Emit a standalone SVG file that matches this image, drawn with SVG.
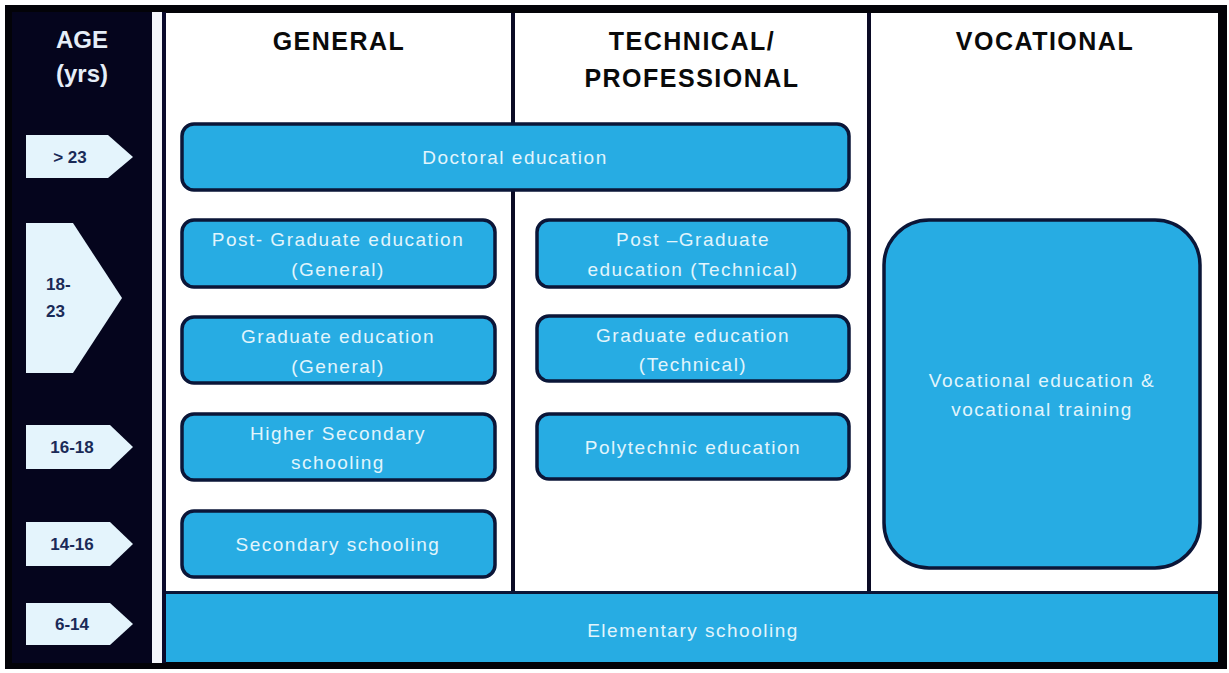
<svg xmlns="http://www.w3.org/2000/svg" width="1229" height="673" viewBox="0 0 1229 673">
<style>
.box{fill:#27ace3;stroke:#0b1638;stroke-width:3.5}
.tag{fill:#e4f4fc}
.tt{font-family:"Liberation Sans",Arial,sans-serif;font-weight:bold;font-size:17px;fill:#1a2a57}
.bt{font-family:"Liberation Sans",Arial,sans-serif;font-size:19px;letter-spacing:1.5px;fill:#e2f5fc;text-anchor:middle}
.hd{font-family:"Liberation Sans",Arial,sans-serif;font-weight:bold;font-size:25px;letter-spacing:1.5px;fill:#0a0a0a;text-anchor:middle}
.ag{font-family:"Liberation Sans",Arial,sans-serif;font-weight:bold;font-size:24px;fill:#e6eef8;text-anchor:middle}
</style>
<rect x="0" y="0" width="1229" height="673" fill="#ffffff"/>
<rect x="5" y="5" width="1222" height="664" fill="#030308"/>
<rect x="12" y="12" width="140" height="651" fill="#05051d"/>
<rect x="152" y="12" width="10" height="651" fill="#f4f6fb"/>
<rect x="162" y="12" width="4" height="651" fill="#0a0a2c"/>
<rect x="166" y="13" width="1052" height="580" fill="#ffffff"/>
<g id="connectors">
<rect x="511" y="13" width="4" height="580" fill="#0a0a24"/>
<rect x="867" y="13" width="4" height="580" fill="#0a0a24"/>
</g>
<g id="age-header">
<text class="ag" x="82" y="48">AGE</text>
<text class="ag" x="82" y="82">(yrs)</text>
</g>
<g id="tag-23">
<polygon class="tag" points="26,135 108,135 133,157 108,178 26,178"/>
<text class="tt" x="70" y="163" text-anchor="middle">&gt; 23</text>
</g>
<g id="tag-18-23">
<polygon class="tag" points="26,223 73,223 122,298 73,373 26,373"/>
<text class="tt" x="46" y="290">18-</text>
<text class="tt" x="46" y="317">23</text>
</g>
<g id="tag-16-18">
<polygon class="tag" points="26,425 110,425 133,447 110,469 26,469"/>
<text class="tt" x="72" y="453" text-anchor="middle">16-18</text>
</g>
<g id="tag-14-16">
<polygon class="tag" points="26,522 110,522 133,544 110,566 26,566"/>
<text class="tt" x="72" y="550" text-anchor="middle">14-16</text>
</g>
<g id="tag-6-14">
<polygon class="tag" points="26,603 110,603 133,624 110,645 26,645"/>
<text class="tt" x="72" y="630" text-anchor="middle">6-14</text>
</g>
<g id="hdr-general"><text class="hd" x="339" y="50">GENERAL</text></g>
<g id="hdr-technical">
<text class="hd" x="692" y="50">TECHNICAL/</text>
<text class="hd" x="692" y="87">PROFESSIONAL</text>
</g>
<g id="hdr-vocational"><text class="hd" x="1045" y="50">VOCATIONAL</text></g>
<g id="doctoral">
<rect class="box" x="182" y="124" width="667" height="66" rx="12"/>
<text class="bt" x="515" y="164">Doctoral education</text>
</g>
<g id="pg-general">
<rect class="box" x="182" y="220" width="313" height="67" rx="12"/>
<text class="bt" x="338" y="246">Post- Graduate education</text>
<text class="bt" x="338" y="276">(General)</text>
</g>
<g id="g-general">
<rect class="box" x="182" y="317" width="313" height="66" rx="12"/>
<text class="bt" x="338" y="343">Graduate education</text>
<text class="bt" x="338" y="373">(General)</text>
</g>
<g id="higher-secondary">
<rect class="box" x="182" y="414" width="313" height="66" rx="12"/>
<text class="bt" x="338" y="440">Higher Secondary</text>
<text class="bt" x="338" y="469">schooling</text>
</g>
<g id="secondary">
<rect class="box" x="182" y="511" width="313" height="66" rx="12"/>
<text class="bt" x="338" y="551">Secondary schooling</text>
</g>
<g id="pg-technical">
<rect class="box" x="537" y="220" width="312" height="67" rx="12"/>
<text class="bt" x="693" y="246">Post –Graduate</text>
<text class="bt" x="693" y="276">education (Technical)</text>
</g>
<g id="g-technical">
<rect class="box" x="537" y="316" width="312" height="65" rx="12"/>
<text class="bt" x="693" y="342">Graduate education</text>
<text class="bt" x="693" y="371">(Technical)</text>
</g>
<g id="polytechnic">
<rect class="box" x="537" y="414" width="312" height="65" rx="12"/>
<text class="bt" x="693" y="454">Polytechnic education</text>
</g>
<g id="vocational">
<rect class="box" x="884" y="220" width="316" height="348" rx="45"/>
<text class="bt" x="1042" y="387">Vocational education &amp;</text>
<text class="bt" x="1042" y="416">vocational training</text>
</g>
<g id="elementary">
<rect x="166" y="592" width="1052" height="70" fill="#27ace3"/>
<rect x="166" y="591" width="1052" height="3" fill="#0b1638"/>
<text class="bt" x="693" y="637">Elementary schooling</text>
</g>
</svg>
